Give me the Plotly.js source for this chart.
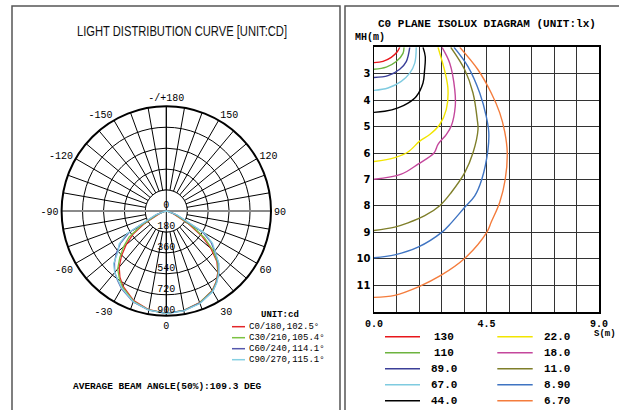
<!DOCTYPE html>
<html>
<head>
<meta charset="utf-8">
<script src="https://cdn.plot.ly/plotly-3.0.1.min.js"></script>
<style>html,body{margin:0;padding:0;background:#fff;}#chart{width:619px;height:410px;}</style>
</head>
<body>
<div id="chart"></div>
<script>
// ---------- Polar (light distribution) data ----------
const thetaDeg = [-90,-80,-70,-60,-55,-50,-45,-40,-35,-30,-20,-10,0,10,20,30,35,40,45,50,55,60,70,80,90];
const cdC0   = [0,10,60,220,350,450,545,630,695,745,820,862,880,868,838,790,745,690,615,500,370,220,60,10,0];
const cdC30  = [0,10,70,250,390,480,565,650,705,755,825,864,880,868,840,792,748,695,625,520,400,250,70,10,0];
const cdC60  = [0,15,90,370,480,560,630,690,730,770,832,866,880,870,843,797,752,700,635,545,470,360,90,15,0];
const cdC90  = [0,15,100,390,495,540,640,690,725,765,830,866,882,872,846,800,755,702,640,550,485,380,100,15,0];
const polarNames = ['C0/180,102.5°','C30/210,105.4°','C60/240,114.1°','C90/270,115.1°'];
const radialTicks = [0,180,360,540,720,900];
const radialTickText = ['0','180','360','540','720','900'];
const angTickVals = [0,30,60,90,120,150,180,210,240,270,300,330];
const angTickText = ['0','30','60','90','120','150','-/+180','-150','-120','-90','-60','-30'];

// ---------- Isolux data (S in m, MH in m) ----------
const isoLevels = ['130','110','89.0','67.0','44.0','22.0','18.0','11.0','8.90','6.70'];
const s130 = [1.03,0.93,0.69,0.36,0];            const h130 = [2.0,2.17,2.38,2.53,2.58];
const s110 = [1.2,1.16,0.89,0.49,0];             const h110 = [2.0,2.23,2.54,2.75,2.83];
const s89  = [1.43,1.29,1.03,0.56,0];            const h89  = [2.0,2.54,2.83,3.07,3.14];
const s67  = [1.69,1.63,1.43,1.09,0.56,0];       const h67  = [2.0,2.6,2.98,3.29,3.54,3.63];
const s44  = [1.96,2.05,2.02,1.96,1.69,1.36,0.96,0.43,0];
const h44  = [2.0,2.35,2.9,3.35,3.86,4.11,4.29,4.42,4.46];
const s22  = [2.56,2.85,2.96,2.89,2.63,2.23,1.83,1.36,0.83,0];
const h22  = [2.0,2.98,3.6,4.36,4.92,5.3,5.55,5.96,6.17,6.32];
const s18  = [2.72,3.03,3.23,3.25,3.09,2.89,2.56,2.4,1.76,1.09,0];
const h18  = [2.0,2.6,3.6,4.23,4.98,5.3,5.67,6.0,6.42,6.8,6.99];
const s11  = [3.07,3.63,3.96,4.13,4.16,3.96,3.63,3.09,2.63,2.03,1.36,0.83,0];
const h11  = [2.0,2.85,3.73,4.73,5.11,5.99,6.74,7.49,7.99,8.37,8.64,8.8,8.93];
const s8_9 = [3.2,3.76,4.23,4.49,4.59,4.56,4.31,4.03,3.63,3.09,2.72,1.76,0.83,0];
const h8_9 = [2.0,2.73,3.73,4.61,5.2,5.86,7.0,7.62,8.05,8.64,8.99,9.56,9.85,9.96];
const s6_7 = [3.43,4.16,4.69,5.03,5.23,5.33,5.25,5.03,4.69,4.51,3.61,2.69,1.8,0.83,0];
const h6_7 = [2.0,2.85,3.73,4.48,5.2,5.99,6.99,7.86,8.61,9.0,10.0,10.62,11.05,11.38,11.46];
const xTickVals = [0,0.9,1.8,2.7,3.6,4.5,5.4,6.3,7.2,8.1,9.0];
const xTickText = ['0.0','','','','','4.5','','','','','9.0'];
const yTickVals = [3,4,5,6,7,8,9,10,11];
const yTickText = ['3','4','5','6','7','8','9','10','11'];

// ---------- styles ----------
const W = 619, H = 410;
const px = x => x / W;
const py = y => (H - y) / H;
const MONO = 'Liberation Mono, DejaVu Sans Mono, monospace';
const polarColors = ['#e3262a','#7cc242','#5558ad','#86d0e2'];
const isoColors = ['#e8161b','#6db33f','#3b3f98','#7fcbe0','#000000','#f2e500','#c4479c','#7f7f2a','#3f74c2','#f47c3c'];

const traces = [];

// white disc that hides the spokes inside the first ring
const discT = [], discR = [];
for (let a = 0; a <= 360; a += 3) { discT.push(a); discR.push(180); }
traces.push({type:'scatterpolar', subplot:'polar', r:discR, theta:discT, mode:'lines',
  fill:'toself', fillcolor:'#ffffff', line:{color:'#000', width:1}, hoverinfo:'skip', showlegend:false});
// diameters through the centre
traces.push({type:'scatterpolar', subplot:'polar', r:[900,0,900], theta:[90,90,270], mode:'lines',
  line:{color:'#8a8a8a', width:2}, hoverinfo:'skip', showlegend:false});
traces.push({type:'scatterpolar', subplot:'polar', r:[900,0,900], theta:[0,0,180], mode:'lines',
  line:{color:'#000', width:1}, hoverinfo:'skip', showlegend:false});

const polarSeries = [cdC0, cdC30, cdC60, cdC90];
polarSeries.forEach((rv, i) => {
  traces.push({type:'scatterpolar', subplot:'polar', r:rv, theta:thetaDeg, mode:'lines',
    line:{color:polarColors[i], width:1.3}, name:polarNames[i], showlegend:false});
});
traces.push({type:'scatterpolar', subplot:'polar', r:radialTicks, theta:radialTicks.map(()=>0),
  mode:'text', text:radialTickText, textposition:'top center', cliponaxis:false,
  textfont:{family:MONO, size:10, color:'#000'}, hoverinfo:'skip', showlegend:false});

const isoS = [s130,s110,s89,s67,s44,s22,s18,s11,s8_9,s6_7];
const isoH = [h130,h110,h89,h67,h44,h22,h18,h11,h8_9,h6_7];
isoS.forEach((sv, i) => {
  traces.push({type:'scatter', xaxis:'x', yaxis:'y', x:sv, y:isoH[i], mode:'lines',
    line:{color:isoColors[i], width:1.4, shape:'spline', smoothing:1}, name:isoLevels[i], showlegend:false});
});

// angular ticks every 10 degrees (grid), labels every 30
const angAllVals = [], angAllText = [];
for (let a = 0; a < 360; a += 10) {
  angAllVals.push(a);
  const k = angTickVals.indexOf(a);
  angAllText.push(k >= 0 ? angTickText[k] : '');
}

const shapes = [
  {type:'rect', xref:'paper', yref:'paper', x0:px(12), x1:px(340), y0:-0.05, y1:py(6), line:{color:'#555', width:1.5}},
  {type:'rect', xref:'paper', yref:'paper', x0:px(345), x1:1.05, y0:-0.05, y1:py(6), line:{color:'#555', width:1.5}}
];
const annotations = [];
const ann = (x, y, text, size, opts) => annotations.push(Object.assign({xref:'paper', yref:'paper', x:px(x), y:py(y),
  text:text, showarrow:false, xanchor:'center', yanchor:'middle', font:{family:MONO, size:size, color:'#000'}}, opts || {}));

const TITLE_LEFT = 'LIGHT DISTRIBUTION CURVE [UNIT:CD]';
ann(182, 31, TITLE_LEFT, 15, {font:{family:'Liberation Sans, Arial, sans-serif', size:15, color:'#111'}});
ann(280, 315, 'UNIT:cd', 9, {font:{family:MONO, size:9, color:'#000', weight:'bold'}});
polarNames.forEach((n, i) => {
  const y = 326.7 + i * 11;
  shapes.push({type:'line', xref:'paper', yref:'paper', x0:px(232), x1:px(245), y0:py(y), y1:py(y), line:{color:polarColors[i], width:1.5}});
  ann(246.5, y, n, 9, {xanchor:'left'});
});
ann(166.7, 386.7, 'AVERAGE BEAM ANGLE(50%):109.3 DEG', 9.5, {font:{family:MONO, size:9.5, color:'#000', weight:'bold'}});

ann(487.3, 24, 'C0 PLANE ISOLUX DIAGRAM (UNIT:lx)', 11, {font:{family:MONO, size:11, color:'#000', weight:'bold'}});
ann(352.5, 37.3, 'MH(m)', 10, {xanchor:'left', font:{family:MONO, size:10, color:'#000', weight:'bold'}});
ann(592, 334, 'S(m)', 9, {xanchor:'left', font:{family:MONO, size:9, color:'#000', weight:'bold'}});
isoLevels.forEach((lv, i) => {
  const col = i < 5 ? 0 : 1, row = i % 5;
  const y = 336.7 + row * 16;
  const lx0 = col ? 497.3 : 385, lx1 = col ? 532.7 : 420, tx = col ? 557 : 444;
  shapes.push({type:'line', xref:'paper', yref:'paper', x0:px(lx0), x1:px(lx1), y0:py(y), y1:py(y), line:{color:isoColors[i], width:1.5}});
  ann(tx, y, lv, 11, {font:{family:MONO, size:11, color:'#000', weight:'bold'}});
});

const cx = 166.3, cy = 211, R = 104.7;
const layout = {
  width: W, height: H,
  margin:{l:0, r:0, t:0, b:0},
  paper_bgcolor:'#fff', plot_bgcolor:'#fff',
  showlegend:false,
  polar:{
    domain:{x:[px(cx - R), px(cx + R)], y:[py(cy + R), py(cy - R)]},
    bgcolor:'#fff',
    angularaxis:{rotation:-90, direction:'counterclockwise', tickmode:'array', tickvals:angAllVals, ticktext:angAllText,
      showgrid:true, gridcolor:'#000', gridwidth:1, showline:true, linecolor:'#000', linewidth:2, ticks:'',
      tickfont:{family:MONO, size:10, color:'#000'}},
    radialaxis:{range:[0,900], tickmode:'array', tickvals:[180,360,540,720,900], showticklabels:false, ticks:'',
      showline:false, showgrid:true, gridcolor:'#000', gridwidth:1}
  },
  xaxis:{domain:[px(374), px(599)], range:[0,9], tickmode:'array', tickvals:xTickVals, ticktext:xTickText,
    showgrid:true, gridcolor:'#333', gridwidth:1, zeroline:false, showline:true, mirror:true, linecolor:'#000', linewidth:2,
    ticks:'', ticklabelstandoff:1, tickfont:{family:MONO, size:10, color:'#000', weight:'bold'}, fixedrange:true},
  yaxis:{domain:[py(311.7), py(47.3)], range:[12,2], tickmode:'array', tickvals:yTickVals, ticktext:yTickText,
    showgrid:true, gridcolor:'#333', gridwidth:1, zeroline:false, showline:true, mirror:true, linecolor:'#000', linewidth:1.5,
    ticks:'', tickfont:{family:'DejaVu Sans, sans-serif', size:10, color:'#000', weight:'bold'}, fixedrange:true},
  shapes: shapes,
  annotations: annotations
};

Plotly.newPlot('chart', traces, layout, {displayModeBar:false, staticPlot:true}).then(() => {
  // condense the left title to the narrow width of the reference lettering
  document.querySelectorAll('.annotation-text').forEach(t => {
    if (t.textContent === TITLE_LEFT) {
      t.setAttribute('textLength', '210');
      t.setAttribute('lengthAdjust', 'spacingAndGlyphs');
    }
  });
});
</script>
</body>
</html>
